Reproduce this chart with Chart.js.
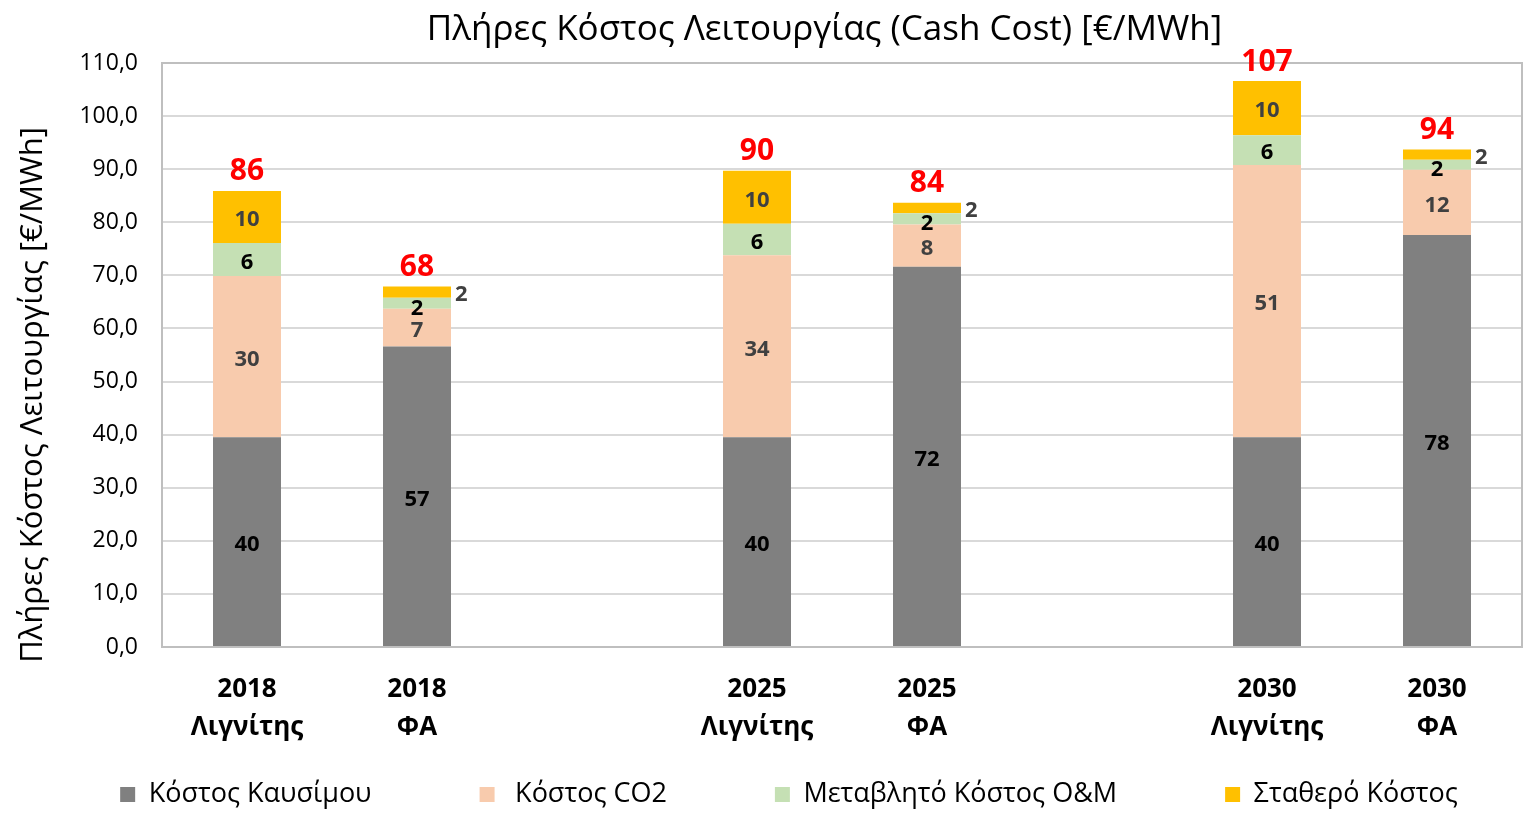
<!DOCTYPE html>
<html>
<head>
<meta charset="utf-8">
<title>Πλήρες Κόστος Λειτουργίας</title>
<script src="https://cdn.jsdelivr.net/npm/chart.js@4.4.1/dist/chart.umd.min.js"></script>
<style>
  html, body { margin: 0; padding: 0; background: #fff; }
  #wrap { width: 1528px; height: 822px; }
</style>
</head>
<body>
<div id="wrap"><canvas id="costChart" width="1528" height="822"></canvas></div>
<script>
// categories (empty strings are the gaps between the years)
const categories = [["2018", "Λιγνίτης"], ["2018", "ΦΑ"], "", ["2025", "Λιγνίτης"], ["2025", "ΦΑ"], "", ["2030", "Λιγνίτης"], ["2030", "ΦΑ"]];

// €/MWh per cost component
const fuelCost = [39.5, 56.6, null, 39.5, 71.6, null, 39.5, 77.6];
const co2Cost = [30.4, 7.1, null, 34.3, 8.0, null, 51.3, 12.3];
const omCost = [6.2, 2.1, null, 5.9, 2.1, null, 5.6, 1.9];
const fixedCost = [9.8, 2.1, null, 10.0, 2.0, null, 10.2, 1.9];

const seriesNames = ["Κόστος Καυσίμου", " Κόστος CO2", "Μεταβλητό Κόστος O&M", "Σταθερό Κόστος"];
const yMin = 0;
const yMax = 110;
const yStep = 10;

const chartTitle = "Πλήρες Κόστος Λειτουργίας (Cash Cost) [€/MWh]";
const yTitle = "Πλήρες Κόστος Λειτουργίας [€/MWh]";

const FONT = "'Open Sans', sans-serif";
const barColors = ["#808080", "#f8cbad", "#c5e0b4", "#ffc000"];
const labelColors = ["#000000", "#404040", "#000000", "#404040"];
const EM = "\u2003";

// segment values + red totals on top
const valueLabels = {
  id: "valueLabels",
  afterDatasetsDraw(chart) {
    const ctx = chart.ctx;
    ctx.save();
    ctx.textBaseline = "middle";
    ctx.font = "bold 22px " + FONT;
    chart.data.datasets.forEach((ds, i) => {
      const meta = chart.getDatasetMeta(i);
      meta.data.forEach((bar, j) => {
        const v = ds.data[j];
        if (v == null) return;
        const text = String(Math.round(v));
        const mid = (bar.y + bar.base) / 2 + 3;
        ctx.fillStyle = labelColors[i];
        if (i === 3 && v < 3) {
          ctx.textAlign = "left";
          ctx.fillText(text, bar.x + bar.width / 2 + 4, mid);
        } else {
          ctx.textAlign = "center";
          ctx.fillText(text, bar.x, mid + (v < 3 ? 2 : 0));
        }
      });
    });

    const topMeta = chart.getDatasetMeta(3);
    ctx.font = "bold 30px " + FONT;
    ctx.fillStyle = "#ff0000";
    ctx.textAlign = "center";
    topMeta.data.forEach((bar, j) => {
      if (fixedCost[j] == null) return;
      const total = fuelCost[j] + co2Cost[j] + omCost[j] + fixedCost[j];
      ctx.fillText(String(Math.round(total)), bar.x, bar.y - 19);
    });
    ctx.restore();
  }
};

// plot area frame + rotated y title
const frame = {
  id: "frame",
  beforeDatasetsDraw(chart) {
    const { ctx, chartArea: a } = chart;
    ctx.save();
    ctx.strokeStyle = "#bfbfbf";
    ctx.lineWidth = 2;
    ctx.strokeRect(a.left, a.top, a.right - a.left, a.bottom - a.top);
    ctx.restore();
  },
  afterDraw(chart) {
    const ctx = chart.ctx;
    ctx.save();
    ctx.translate(33, 395);
    ctx.rotate(-Math.PI / 2);
    ctx.font = "31px " + FONT;
    ctx.fillStyle = "#000";
    ctx.textAlign = "center";
    ctx.textBaseline = "middle";
    ctx.fillText(yTitle, 0, 0);
    ctx.restore();
  }
};

function draw() {
  Chart.defaults.font.family = FONT;
  Chart.defaults.color = "#000";

  new Chart(document.getElementById("costChart"), {
    type: "bar",
    data: {
      labels: categories,
      datasets: [fuelCost, co2Cost, omCost, fixedCost].map((values, i) => ({
        label: seriesNames[i],
        data: values,
        backgroundColor: barColors[i],
        borderWidth: 0,
        categoryPercentage: 1,
        barPercentage: 0.4
      }))
    },
    options: {
      responsive: false,
      animation: false,
      layout: { padding: { top: 0, right: 6, bottom: 4, left: 56 } },
      plugins: {
        title: {
          display: true,
          text: chartTitle + EM,
          fullSize: false,
          color: "#000",
          font: { size: 35, weight: "normal" },
          padding: { top: 9, bottom: 12 }
        },
        legend: {
          position: "bottom",
          labels: {
            color: "#000",
            font: { size: 27 },
            boxWidth: 15,
            boxHeight: 15,
            padding: 27,
            // wide gaps between the legend entries
            generateLabels(chart) {
              const items = Chart.defaults.plugins.legend.labels.generateLabels(chart);
              items.forEach((it, i) => {
                if (i < items.length - 1) it.text += EM + EM + EM;
              });
              return items;
            }
          }
        },
        tooltip: { enabled: false }
      },
      scales: {
        x: {
          stacked: true,
          grid: { display: false, drawTicks: false },
          border: { display: false },
          ticks: {
            color: "#000",
            padding: 24,
            font: { size: 26, weight: "bold", lineHeight: 1.46 }
          },
          afterFit(scale) { scale.height = 107; }
        },
        y: {
          stacked: true,
          min: yMin,
          max: yMax,
          grid: { color: "#d9d9d9", lineWidth: 2, drawTicks: false },
          border: { display: false },
          ticks: {
            stepSize: yStep,
            padding: 24,
            color: "#000",
            font: { size: 23 },
            callback: (v) => v.toFixed(1).replace(".", ",")
          },
          afterFit(scale) { scale.width = 106; }
        }
      }
    },
    plugins: [frame, valueLabels]
  });
}

Promise.all([
  document.fonts.load("24px 'Open Sans'"),
  document.fonts.load("bold 24px 'Open Sans'")
]).then(draw, draw);
</script>
</body>
</html>
